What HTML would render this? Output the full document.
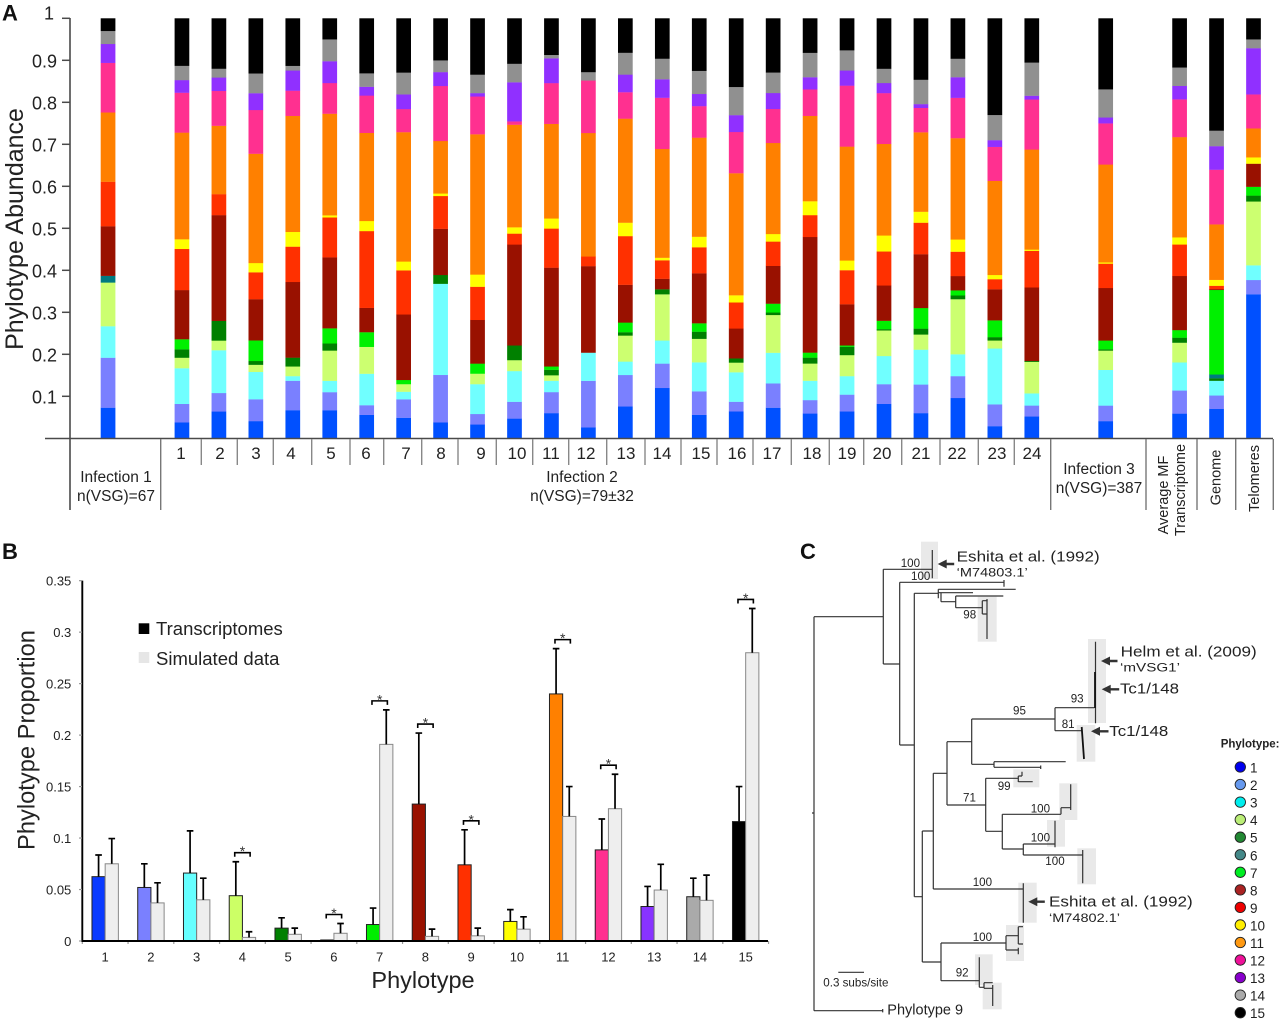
<!DOCTYPE html>
<html lang="en">
<head>
<meta charset="utf-8">
<title>Phylotype abundance figure</title>
<style>
html,body{margin:0;padding:0;background:#fff;}
svg{display:block;font-family:"Liberation Sans",Arial,sans-serif;fill:#222;}
.tree{fill:none;stroke:#333;stroke-width:1.2;}
.box{fill:#e9e9e9;stroke:none;}
.bl{font-size:11.6px;fill:#222;}
.num{font-size:17px;text-anchor:middle;fill:#222;}
.lab{font-size:15.5px;text-anchor:middle;fill:#222;}
.rot{font-size:14.5px;text-anchor:middle;fill:#222;}
.panel{font-size:22px;font-weight:bold;fill:#111;}
.ref{font-size:15px;fill:#222;}
.sub{font-size:12px;fill:#222;}
</style>
</head>
<body>
<svg id="fig" xmlns="http://www.w3.org/2000/svg" width="1280" height="1020" viewBox="0 0 1280 1020">
  <rect width="1280" height="1020" fill="#fff"/>

  <!-- PANEL A furniture -->
  <text class="panel" x="2" y="20.7">A</text>
  <text font-size="25" transform="translate(23,229) rotate(-90)" text-anchor="middle">Phylotype Abundance</text>
  <g id="panelA"></g>
  <path d="M70 18V510M45 438.5H1273" fill="none" stroke="#4a4a4a" stroke-width="1.6"/>
  <path d="M160.7 439V510M1050.7 439V510M1146 439V510M1197 439V510M1235.7 439V510M1273.3 439V510" fill="none" stroke="#777" stroke-width="1.4"/>
  <path d="M201.3 439V465M237.3 439V465M273.3 439V465M311.7 439V465M350 439V465M383.7 439V465M421.7 439V465M458 439V465M496.3 439V465M532.7 439V465M568.7 439V465M606.7 439V465M645 439V465M681 439V465M717 439V465M753 439V465M791.3 439V465M829.3 439V465M863.7 439V465M901.7 439V465M940 439V465M978.3 439V465M1014.3 439V465" fill="none" stroke="#888" stroke-width="1.4"/>
  <g>
    <text class="num" x="181" y="459">1</text>
    <text class="num" x="220" y="459">2</text>
    <text class="num" x="256" y="459">3</text>
    <text class="num" x="291" y="459">4</text>
    <text class="num" x="331" y="459">5</text>
    <text class="num" x="366" y="459">6</text>
    <text class="num" x="406" y="459">7</text>
    <text class="num" x="441" y="459">8</text>
    <text class="num" x="481" y="459">9</text>
    <text class="num" x="517" y="459">10</text>
    <text class="num" x="551" y="459">11</text>
    <text class="num" x="586" y="459">12</text>
    <text class="num" x="626" y="459">13</text>
    <text class="num" x="662" y="459">14</text>
    <text class="num" x="701" y="459">15</text>
    <text class="num" x="737" y="459">16</text>
    <text class="num" x="772" y="459">17</text>
    <text class="num" x="812" y="459">18</text>
    <text class="num" x="847" y="459">19</text>
    <text class="num" x="882" y="459">20</text>
    <text class="num" x="921" y="459">21</text>
    <text class="num" x="957" y="459">22</text>
    <text class="num" x="997" y="459">23</text>
    <text class="num" x="1032" y="459">24</text>
  </g>
  <text class="lab" x="116" y="482">Infection 1</text>
  <text class="lab" x="116" y="501">n(VSG)=67</text>
  <text class="lab" x="582" y="482">Infection 2</text>
  <text class="lab" x="582" y="501">n(VSG)=79±32</text>
  <text class="lab" x="1099" y="474">Infection 3</text>
  <text class="lab" x="1099" y="493">n(VSG)=387</text>
  <text class="rot" transform="translate(1168,495) rotate(-90)">Average MF</text>
  <text class="rot" transform="translate(1185,490) rotate(-90)">Transcriptome</text>
  <text class="rot" transform="translate(1220.5,477.5) rotate(-90)">Genome</text>
  <text class="rot" transform="translate(1259,478.5) rotate(-90)">Telomeres</text>

  <!-- PANEL B furniture -->
  <text class="panel" x="2" y="559">B</text>
  <text font-size="23.7" transform="translate(34.5,740) rotate(-90)" text-anchor="middle">Phylotype Proportion</text>
  <text font-size="23.5" x="423" y="988" text-anchor="middle">Phylotype</text>
  <g id="panelB"></g>
  <rect x="138.7" y="623.3" width="10.6" height="10.7" fill="#000"/>
  <text font-size="18.5" x="156" y="635">Transcriptomes</text>
  <rect x="138.7" y="652" width="10.6" height="11" fill="#e6e6e6"/>
  <text font-size="18.5" x="156" y="665">Simulated data</text>

  <!-- PANEL C tree -->
  <text class="panel" x="800" y="559">C</text>
  <g>
    <rect class="box" x="921" y="541.7" width="17" height="37.3"/>
    <rect class="box" x="977.7" y="596.7" width="19" height="45"/>
    <rect class="box" x="1088" y="639" width="18" height="84"/>
    <rect class="box" x="1076.7" y="725" width="18.6" height="36.7"/>
    <rect class="box" x="1013.3" y="769.3" width="26" height="18"/>
    <rect class="box" x="1059.3" y="783.3" width="18" height="36.7"/>
    <rect class="box" x="1047" y="820" width="18" height="26.7"/>
    <rect class="box" x="1077.3" y="848.3" width="18.7" height="36"/>
    <rect class="box" x="1018.3" y="882.7" width="18.4" height="40"/>
    <rect class="box" x="1006" y="925" width="18" height="36"/>
    <rect class="box" x="975" y="954.3" width="17.7" height="30.7"/>
    <rect class="box" x="982.7" y="982.7" width="19" height="26.6"/>
  </g>
  <path class="tree" d="
    M814 616.7V1010.7M812 813H814M814 616.7H883.3M814 1010.7H882.7M882.7 1009V1012.4
    M883.3 569.3V664M883.3 569.3H932.3M932.3 550V578.3M883.3 664H899.7
    M899.7 582.3V745M899.7 582.3H1004M1004 580V586.7M899.7 745H914.3
    M914.3 593.3V896.7M914.3 593.3H938.3M938.3 589.3V598.3M938.3 589.3H1015.7M938.3 592.7H973
    M941 593V601.7M941 601.7H955.7M955.7 596V607.7M955.7 596H1003.3M955.7 607.7H982.3
    M982.3 600.7V614M982.3 600.7H987.7M982.3 614H986.7M987 599V639
    M914.3 896.7H922.3M922.3 831V962M922.3 831H933.3M933.3 773.3V889M933.3 773.3H947
    M947 741.7V805M947 741.7H971.7M971.7 719V764.3M971.7 719H1055
    M1055 707.7V730.7M1055 707.7H1094.3M1055 730.7H1081.7
    M1095.5 641.7V723.3M971.7 764.3H994M994 761.7V767.3M994 761.7H1065.7M994 767.3H1040.7M1040.7 765.5V769
    M947 805H985.7M985.7 778.3V831.3M985.7 778.3H1018.3M1018.3 776V782M1018.3 776H1022M1022 771.7V776M1018.3 781.7H1032.7
    M985.7 831.3H1002.3M1002.3 814.3V849M1002.3 814.3H1061M1061 807.7V814.3M1061 807.7H1070.7M1070.7 784.3V810
    M1002.3 849H1023.3M1023.3 844V855M1023.3 844H1055M1055 820.7V847.3M1023.3 855H1082.7M1082.7 850V883.3
    M933.3 889H1023.3M1023.3 883.3V922.7
    M922.3 962H941M941 943V980.7M941 943H1006M1006 935.7V950M1006 935.7H1018.3M1018.3 926.7V944M1018.3 926.7H1023M1018.3 944H1023
    M1006 950H1018.3M1018.3 947.7V954.3
    M941 980.7H979.3M979.3 957.3V987.3M979.3 987.3H984M984 982.7V988.3M984 982.7H992.7M984 988.3H992.7M992.7 985V1006
    M838.3 972.3H864"/>
  <path d="M1095 672V708M1081.7 727L1084 759" fill="none" stroke="#111" stroke-width="1.8"/>
  <g>
    <text class="bl" x="900.7" y="567">100</text>
    <text class="bl" x="911" y="580">100</text>
    <text class="bl" x="963.3" y="618.7">98</text>
    <text class="bl" x="1013" y="714.3">95</text>
    <text class="bl" x="1070.7" y="702.7">93</text>
    <text class="bl" x="1061.7" y="728">81</text>
    <text class="bl" x="963" y="801.7">71</text>
    <text class="bl" x="997.7" y="790">99</text>
    <text class="bl" x="1030.7" y="812.7">100</text>
    <text class="bl" x="1030.7" y="841.7">100</text>
    <text class="bl" x="1045.3" y="865">100</text>
    <text class="bl" x="972.7" y="886">100</text>
    <text class="bl" x="972.7" y="941">100</text>
    <text class="bl" x="955.7" y="976.7">92</text>
  </g>
  <text class="bl" x="823.3" y="986.7">0.3 subs/site</text>
  <text font-size="14.5" x="887.3" y="1014.3">Phylotype 9</text>

  <g fill="#333">
    <path transform="translate(937.7,564)" d="M0 0L9 -4.5V-1.2H16.5V1.2H9V4.5Z"/>
    <path transform="translate(1101,661)" d="M0 0L9 -4.5V-1.2H16.5V1.2H9V4.5Z"/>
    <path transform="translate(1101.7,689.3)" d="M0 0L9 -4.5V-1.2H17.5V1.2H9V4.5Z"/>
    <path transform="translate(1091,731.3)" d="M0 0L9 -4.5V-1.2H17.5V1.2H9V4.5Z"/>
    <path transform="translate(1028.3,901.7)" d="M0 0L9 -4.5V-1.2H16.5V1.2H9V4.5Z"/>
  </g>
  <text class="ref" x="956.7" y="561.7" textLength="143" lengthAdjust="spacingAndGlyphs">Eshita et al. (1992)</text>
  <text class="sub" x="956.7" y="576.7" textLength="71" lengthAdjust="spacingAndGlyphs">‘M74803.1’</text>
  <text class="ref" x="1120.7" y="656.7" textLength="136" lengthAdjust="spacingAndGlyphs">Helm et al. (2009)</text>
  <text class="sub" x="1120" y="671.7" textLength="60" lengthAdjust="spacingAndGlyphs">‘mVSG1’</text>
  <text class="ref" x="1120" y="693.3" textLength="59" lengthAdjust="spacingAndGlyphs">Tc1/148</text>
  <text class="ref" x="1109.3" y="736" textLength="59" lengthAdjust="spacingAndGlyphs">Tc1/148</text>
  <text class="ref" x="1049" y="906.7" textLength="143.7" lengthAdjust="spacingAndGlyphs">Eshita et al. (1992)</text>
  <text class="sub" x="1049" y="922" textLength="71" lengthAdjust="spacingAndGlyphs">‘M74802.1’</text>

  <text font-size="11.5" font-weight="bold" x="1220.7" y="747.3">Phylotype:</text>
  <g id="dotLegend"></g>
</svg>

<script>
// ---------- Panel A data ----------
const barCategories = ['Infection 1', null, '1','2','3','4','5','6','7','8','9','10','11','12','13','14','15','16','17','18','19','20','21','22','23','24', null, 'Infection 3', null, 'Average MF Transcriptome','Genome','Telomeres'];
const tickLabelsA = ['0.1','0.2','0.3','0.4','0.5','0.6','0.7','0.8','0.9','1'];
const phylotypeColorsA = ['#0050ff','#7a80ff','#70ffff','#ccff70','#008000','#007a80','#00f000','#991100','#ff3000','#ffff00','#ff8000','#ff3090','#9030ff','#909090','#000000'];
// each row: proportion of phylotypes 1..15 for one non-null category
const abundance = [
[.073,.119,.075,.104,0,.016,0,.118,.106,0,.165,.118,.045,.031,.030],
[.038,.044,.085,.025,.020,0,.024,.117,.098,.023,.254,.095,.030,.034,.113],
[.064,.044,.102,.023,.047,0,0,.252,.050,0,.163,.083,.032,.021,.120],
[.041,.052,.065,.017,.009,0,.049,.098,.064,.022,.260,.104,.040,.047,.131],
[.067,.070,.011,.023,.021,0,0,.180,.084,.035,.276,.060,.048,.011,.113],
[.067,.043,.027,.072,.017,0,.036,.169,.095,.005,.242,.073,.052,.052,.050],
[.056,.023,.075,.064,0,0,.035,.058,.183,.024,.210,.089,.021,.032,.131],
[.049,.044,.018,.018,0,0,.010,.156,.105,.021,.308,.055,.035,.052,.129],
[.038,.113,.217,0,.021,0,0,.110,.078,.006,.125,.131,.033,.028,.100],
[.033,.025,.071,.025,0,0,.024,.104,.079,.029,.334,.090,.008,.044,.134],
[.047,.040,.073,.026,.035,0,0,.240,.026,.015,.244,.008,.093,.044,.108],
[.060,.050,.027,.013,.013,0,.008,.235,.093,.024,.225,.097,.059,.008,.087],
[.026,.111,.067,0,0,0,0,.206,.023,0,.294,.125,0,.020,.128],
[.076,.075,.032,.062,.008,0,.023,.090,.116,.032,.248,.063,.042,.052,.082],
[.120,.058,.055,.110,.012,0,0,.025,.044,.006,.259,.122,.044,.049,.096],
[.056,.056,.069,.056,.017,0,.020,.119,.062,.025,.236,.075,.029,.055,.125],
[.064,.023,.070,.023,.010,0,0,.071,.062,.017,.290,.098,.040,.067,.163],
[.073,.058,.073,.090,.006,0,.021,.090,.058,.018,.217,.081,.038,.049,.129],
[.059,.032,.046,.041,.014,0,.012,.275,.052,.033,.203,.063,.029,.058,.082],
[.064,.040,.044,.050,.020,0,.003,.098,.081,.023,.271,.145,.036,.048,.076],
[.082,.047,.067,.061,.003,0,.020,.084,.081,.038,.218,.121,.024,.034,.120],
[.060,.068,.083,.036,.014,0,.049,.128,.075,.026,.189,.058,.009,.058,.146],
[.096,.052,.052,.131,.009,0,.012,.034,.058,.029,.241,.096,.049,.044,.096],
[.029,.052,.133,.019,.008,0,.040,.074,.024,.010,.224,.081,.016,.060,.230],
[.052,.026,.029,.075,.002,0,0,.175,.087,.003,.238,.119,.009,.079,.105],
[.041,.037,.085,.046,.003,0,.021,.125,.058,.003,.233,.098,.014,.067,.169],
[.059,.055,.067,.047,.012,0,.018,.129,.075,.017,.239,.090,.032,.044,.117],
[.070,.032,.035,0,.006,.009,.201,.002,.008,.014,.132,.130,.056,.037,.267],
[.343,.034,.035,.152,.014,0,.021,.055,0,.015,.069,.081,.110,.021,.050]
];

// ---------- Panel B data ----------
const phylotypeLabels = ['1','2','3','4','5','6','7','8','9','10','11','12','13','14','15'];
const tickLabelsB = ['0','0.05','0.1','0.15','0.2','0.25','0.3','0.35'];
const tickValuesB = [0,0.05,0.1,0.15,0.2,0.25,0.3,0.35];
const transcriptomeMeans = [.0625,.052,.066,.044,.0125,.001,.016,.133,.074,.019,.24,.0885,.0335,.043,.116];
const transcriptomeUpper = [.0835,.075,.107,.077,.0225,null,.032,.202,.108,.0305,.284,.1185,.053,.061,.15];
const simulatedMeans = [.075,.037,.04,.0035,.0065,.0075,.191,.0045,.005,.0115,.121,.1285,.0495,.0395,.28];
const simulatedUpper = [.0995,.0565,.061,.009,.0125,.017,.2245,.0115,.0125,.0235,.15,.162,.0745,.064,.323];
const significantPhylotypes = ['4','6','7','8','9','11','12','15'];
const phylotypeColorsB = ['#0a3aff','#7a80ff','#66ffff','#ccff66','#008000','#006666','#00ee00','#991100','#ff3000','#ffff00','#ff8000','#ff3090','#8833ff','#aaaaaa','#000000'];
const legendColors = ['#0000ee','#6699ee','#00eeee','#bbee77','#228833','#448888','#00ee22','#aa2222','#ee0000','#ffee00','#ff9911','#ee1199','#8800cc','#aaaaaa','#000000'];

const NS = 'http://www.w3.org/2000/svg';
function mk(tag, parent, attrs) {
  const el = document.createElementNS(NS, tag);
  for (const k in attrs) el.setAttribute(k, attrs[k]);
  parent.appendChild(el);
  return el;
}

// ---------- Panel A drawing ----------
const gA = document.getElementById('panelA');
const yA = v => 438.3 - v * 420;
const xA = i => 100.7 + i * 36.95;
const barWidthA = 14.7;
let row = 0;
barCategories.forEach((cat, slot) => {
  if (cat === null) return;
  const total = abundance[row].reduce((a, b) => a + b, 0);
  let cum = 0;
  abundance[row].forEach((raw, p) => {
    if (raw <= 0) return;
    const val = raw / total;
    const r = mk('rect', gA, {x: xA(slot), y: yA(cum + val), width: barWidthA, height: val * 420 + 0.15, fill: phylotypeColorsA[p]});
    
    
    cum += val;
  });
  row++;
});
tickLabelsA.forEach(lbl => {
  const v = parseFloat(lbl);
  const t = mk('line', gA, {x1: 62, x2: 70, y1: yA(v), y2: yA(v), stroke: '#4a4a4a', 'stroke-width': 1.5});
  
  
  const tx = mk('text', gA, {x: lbl === '1' ? 54 : 57, y: yA(v) + (lbl === '1' ? 1 : 7), 'text-anchor': 'end', 'font-size': 18});
  
  
  tx.textContent = lbl;
});

// ---------- Panel B drawing ----------
const gB = document.getElementById('panelB');
const yB = v => 941 - v * 1029.5;
const bandB = 45.75;
const xB = i => 82.3 + i * bandB;
const barWidthB = 13.2;

function errorBar(cx, from, to) {
  const e = mk('path', gB, {d: 'M' + cx + ' ' + yB(from) + 'V' + yB(to) + 'M' + (cx - 3.3) + ' ' + yB(to) + 'H' + (cx + 3.3), fill: 'none', stroke: '#000', 'stroke-width': 1.7});
  
  
}
phylotypeLabels.forEach((lbl, i) => {
  const c = xB(i + 0.5);
  const a = mk('rect', gB, {x: c - barWidthB, y: yB(transcriptomeMeans[i]), width: barWidthB, height: transcriptomeMeans[i] * 1029.5, fill: phylotypeColorsB[i], stroke: '#222', 'stroke-width': 1});
  
  
  const b = mk('rect', gB, {x: c, y: yB(simulatedMeans[i]), width: barWidthB, height: simulatedMeans[i] * 1029.5, fill: '#eeeeee', stroke: '#888', 'stroke-width': 1});
  
  
  if (transcriptomeUpper[i] !== null) errorBar(c - barWidthB / 2, transcriptomeMeans[i], transcriptomeUpper[i]);
  errorBar(c + barWidthB / 2, simulatedMeans[i], simulatedUpper[i]);
  const tk = mk('line', gB, {x1: xB(i), x2: xB(i), y1: 941, y2: 944, stroke: '#999', 'stroke-width': 1.2});
  
  
  const tx = mk('text', gB, {x: c, y: 961.7, 'text-anchor': 'middle', 'font-size': 13});
  
  
  tx.textContent = lbl;
  if (significantPhylotypes.includes(lbl)) {
    const top = Math.max(transcriptomeUpper[i] || 0, simulatedUpper[i]);
    const by = yB(top) - 9;
    const br = mk('path', gB, {d: 'M' + (c - 7.7) + ' ' + (by + 4) + 'V' + by + 'H' + (c + 7.7) + 'V' + (by + 4), fill: 'none', stroke: '#000', 'stroke-width': 1.6});
    
    
    const st = mk('text', gB, {x: c, y: by + 3.5, 'text-anchor': 'middle', 'font-size': 14, fill: '#333'});
    
    
    st.textContent = '*';
  }
});
const axB = mk('path', gB, {d: 'M82.3 ' + yB(0.35) + 'V942M81 941H768', fill: 'none', stroke: '#000', 'stroke-width': 1.9});


const endTick = mk('line', gB, {x1: xB(15), x2: xB(15), y1: 941, y2: 944, stroke: '#999', 'stroke-width': 1.2});


tickValuesB.forEach((v, i) => {
  const t = mk('line', gB, {x1: 79, x2: 82, y1: yB(v), y2: yB(v), stroke: '#999', 'stroke-width': 1.2});
  
  
  const tx = mk('text', gB, {x: 71.3, y: yB(v) + 5, 'text-anchor': 'end', 'font-size': 13});
  
  
  tx.textContent = tickLabelsB[i];
});

// ---------- Phylotype dot legend ----------
const gL = document.getElementById('dotLegend');
phylotypeLabels.forEach((lbl, i) => {
  const cy = 767 + i * 17.55;
  const d = mk('circle', gL, {cx: 1240.3, cy: cy, r: 5.2, fill: legendColors[i], stroke: '#222', 'stroke-width': 0.9});
  
  
  const t = mk('text', gL, {x: 1250, y: cy + 5.5, 'font-size': 13.5});
  
  
  t.textContent = lbl;
});
</script>
</body>
</html>
